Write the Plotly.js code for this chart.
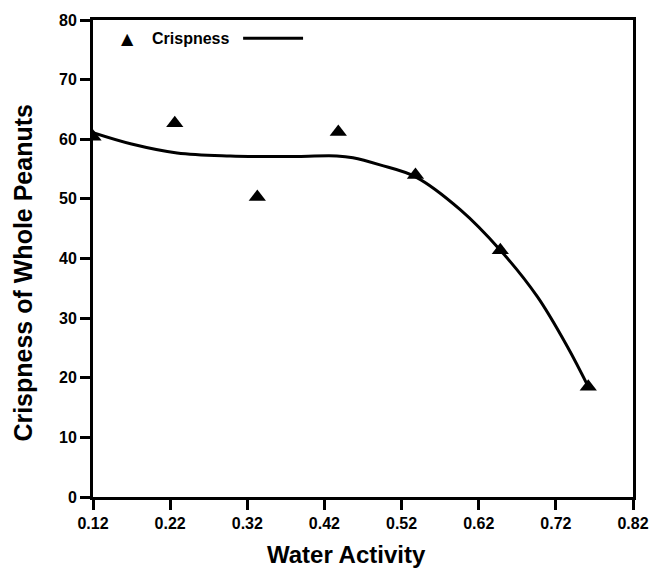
<!DOCTYPE html>
<html>
<head>
<meta charset="utf-8">
<script src="https://cdn.plot.ly/plotly-3.0.1.min.js"></script>
<style>html,body{margin:0;padding:0;background:#fff;}#chart{width:650px;height:570px;}</style>
</head>
<body>
<div id="chart"></div>
<script>
// Measured data points
const waterActivity = [0.12, 0.226, 0.333, 0.438, 0.538, 0.648, 0.762];
const crispness = [60.4, 62.7, 50.3, 61.2, 54.0, 41.4, 18.5];
// Fitted curve
const curveX = [0.12, 0.17, 0.229, 0.298, 0.37, 0.436, 0.457, 0.492, 0.538, 0.596, 0.648, 0.696, 0.735, 0.762];
const curveY = [61.1, 59.2, 57.7, 57.2, 57.1, 57.2, 56.9, 55.7, 53.7, 48.2, 41.4, 33.6, 25.2, 18.5];
const xTicks = [0.12, 0.22, 0.32, 0.42, 0.52, 0.62, 0.72, 0.82];
const yTicks = [0, 10, 20, 30, 40, 50, 60, 70, 80];
const legendLabel = "Crispness";
const xTitle = "Water Activity";
const yTitle = "Crispness of Whole Peanuts";

const fam = "Liberation Sans, Arial, sans-serif";
const tickFont = {family: fam, size: 16, color: "#000", weight: "bold"};
const titleFont = {family: fam, size: 24, color: "#000", weight: "bold"};

const traces = [
  {x: curveX, y: curveY, mode: "lines", line: {shape: "spline", smoothing: 1, color: "#000", width: 3}, showlegend: false, hoverinfo: "skip"},
  {x: waterActivity, y: crispness, mode: "markers", marker: {symbol: "triangle-up", size: 15, color: "#000"}, showlegend: false}
];

const layout = {
  width: 650, height: 570,
  margin: {l: 93, r: 17, t: 20, b: 73},
  paper_bgcolor: "#fff", plot_bgcolor: "#fff",
  showlegend: false,
  xaxis: {
    range: [0.12, 0.82], tickvals: xTicks, ticktext: xTicks.map(v => v.toFixed(2)),
    ticks: "outside", ticklen: 10, tickwidth: 3, tickcolor: "#000",
    showline: true, linewidth: 3, linecolor: "#000", mirror: true,
    showgrid: false, zeroline: false, tickfont: tickFont
  },
  yaxis: {
    range: [0, 80], tickvals: yTicks,
    ticks: "outside", ticklen: 10, tickwidth: 3, tickcolor: "#000",
    showline: true, linewidth: 3, linecolor: "#000", mirror: true,
    showgrid: false, zeroline: false, tickfont: tickFont
  },
  annotations: [
    {xref: "paper", yref: "paper", x: 0.470, y: -0.121, xanchor: "center", yanchor: "middle", text: xTitle, showarrow: false, font: titleFont},
    {xref: "paper", yref: "paper", x: -0.130, y: 0.470, xanchor: "center", yanchor: "middle", textangle: -90, text: yTitle, showarrow: false, font: {family: fam, size: 25, color: "#000", weight: "bold"}},
    {xref: "paper", yref: "paper", x: 0.063, y: 0.962, xanchor: "center", yanchor: "middle", text: "▲", showarrow: false, font: {family: "DejaVu Sans", size: 16, color: "#000"}},
    {xref: "paper", yref: "paper", x: 0.1056, y: 0.962, xanchor: "left", yanchor: "middle", text: legendLabel, showarrow: false, font: {family: fam, size: 16, color: "#000", weight: "bold"}}
  ],
  shapes: [
    {type: "line", xref: "paper", yref: "paper", x0: 0.278, x1: 0.389, y0: 0.962, y1: 0.962, line: {color: "#000", width: 3}}
  ]
};

Plotly.newPlot("chart", traces, layout, {displayModeBar: false, staticPlot: true});
</script>
</body>
</html>
